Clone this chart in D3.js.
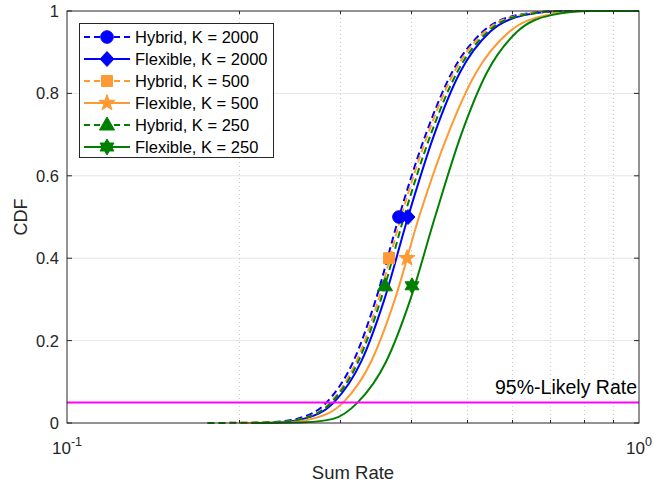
<!DOCTYPE html>
<html>
<head>
<meta charset="utf-8">
<script src="https://cdn.jsdelivr.net/npm/d3@7"></script>
<style>
  html, body { margin: 0; padding: 0; background: #fff; }
  svg { display: block; font-family: "Liberation Sans", Arial, Helvetica, sans-serif; }
</style>
</head>
<body>
<div id="chart"></div>
<script>
// CDF of sum rate, hybrid vs flexible, three K values

// CDF levels shared by every curve (first point = curve start, last = right edge)
var cdfLevels = [0, 0.002, 0.01, 0.05, 0.15, 0.3, 0.5, 0.7, 0.85, 0.95, 0.99, 1, 1];

// sum rate read at each level
var rateHybrid2000   = [0.220, 0.2286, 0.2521, 0.2843, 0.3168, 0.3467, 0.3805, 0.4237, 0.4707, 0.5335, 0.6134, 0.7276, 1.0];
var rateFlexible2000 = [0.220, 0.2343, 0.2589, 0.2929, 0.3271, 0.3588, 0.3946, 0.4385, 0.4861, 0.5496, 0.6302, 0.7424, 1.0];
var rateHybrid500    = [0.176, 0.2331, 0.2565, 0.2886, 0.3207, 0.3504, 0.3836, 0.4272, 0.4745, 0.5378, 0.6184, 0.7276, 1.0];
var rateFlexible500  = [0.200, 0.2421, 0.2681, 0.3041, 0.3404, 0.3743, 0.4125, 0.4632, 0.5188, 0.5937, 0.6902, 0.8046, 1.0];
var rateHybrid250    = [0.176, 0.2333, 0.2572, 0.2901, 0.3232, 0.3538, 0.3883, 0.4324, 0.4803, 0.5443, 0.6259, 0.7424, 1.0];
var rateFlexible250  = [0.210, 0.2607, 0.2918, 0.3223, 0.3616, 0.3984, 0.4399, 0.4888, 0.5419, 0.6127, 0.7026, 0.8210, 1.0];

// one marker per curve
var markerRate = [0.3805, 0.3946, 0.3656, 0.3930, 0.3597, 0.4010];
var markerCdf  = [0.5, 0.5, 0.4, 0.4, 0.333, 0.333];

var seriesNames  = ['Hybrid, K = 2000', 'Flexible, K = 2000', 'Hybrid, K = 500',
                    'Flexible, K = 500', 'Hybrid, K = 250', 'Flexible, K = 250'];
var seriesRates  = [rateHybrid2000, rateFlexible2000, rateHybrid500, rateFlexible500, rateHybrid250, rateFlexible250];
var seriesColors = ['#0000ff', '#0000ff', '#ff9933', '#ff9933', '#008000', '#008000'];
var seriesDashed = [true, false, true, false, true, false];
var seriesMarker = ['circle', 'diamond', 'square', 'star5', 'triangle', 'hexagram'];

var yTicks      = [0, 0.2, 0.4, 0.6, 0.8, 1];
var xMajorTicks = [0.1, 1];
var xMinorTicks = [0.2, 0.3, 0.4, 0.5, 0.6, 0.7, 0.8, 0.9];
var likelyCdf   = 0.05;
var likelyLabel = '95%-Likely Rate';

(function() {

  var W = 654, H = 489;
  var M = { left: 67, right: 15, top: 11, bottom: 66 };
  var AX = '#262626';

  var svg = d3.select('#chart').append('svg').attr('width', W).attr('height', H);

  var x = d3.scaleLog().domain([0.1, 1]).range([M.left, W - M.right]);
  var y = d3.scaleLinear().domain([0, 1]).range([H - M.bottom, M.top]);
  var x0 = x.range()[0], x1 = x.range()[1], y0 = y.range()[0], y1 = y.range()[1];

  // ── grid ───────────────────────────────────────────────────────────────────
  var grid = svg.append('g');
  grid.selectAll('line.gy').data(yTicks.slice(1, -1)).enter().append('line')
    .attr('x1', x0).attr('x2', x1)
    .attr('y1', function(d) { return y(d); }).attr('y2', function(d) { return y(d); })
    .attr('stroke', '#e6e6e6').attr('stroke-width', 1);
  grid.selectAll('line.gx').data(xMinorTicks).enter().append('line')
    .attr('x1', function(d) { return Math.round(x(d)) + 0.5; }).attr('x2', function(d) { return Math.round(x(d)) + 0.5; })
    .attr('y1', y0).attr('y2', y1)
    .attr('stroke', '#c8c8c8').attr('stroke-width', 1).attr('stroke-dasharray', '1,3');

  // ── marker shapes ──────────────────────────────────────────────────────────
  function starPath(n, R, r, rot) {
    var pts = [];
    for (var i = 0; i < 2 * n; i++) {
      var a = rot + Math.PI * i / n;
      var rr = (i % 2 === 0) ? R : r;
      pts.push([rr * Math.sin(a), -rr * Math.cos(a)]);
    }
    return 'M' + pts.map(function(p) { return p[0].toFixed(2) + ',' + p[1].toFixed(2); }).join('L') + 'Z';
  }
  function markerPath(kind) {
    switch (kind) {
      case 'circle':   return d3.symbol(d3.symbolCircle, Math.PI * 6.3 * 6.3)();
      case 'diamond':  return 'M0,-7.5L7,0L0,7.5L-7,0Z';
      case 'square':   return 'M-5.5,-5.5L5.5,-5.5L5.5,5.5L-5.5,5.5Z';
      case 'star5':    return starPath(5, 8.5, 3.4, 0);
      case 'triangle': return 'M0,-8L7.5,5L-7.5,5Z';
      case 'hexagram': return starPath(6, 8, 4.6, 0);
    }
  }

  // ── curves ─────────────────────────────────────────────────────────────────
  var line = d3.line()
    .x(function(d) { return x(d[0]); })
    .y(function(d) { return y(d[1]); })
    .curve(d3.curveMonotoneX);

  var plot = svg.append('g');
  seriesRates.forEach(function(rates, i) {
    var pts = rates.map(function(r, k) { return [r, cdfLevels[k]]; });
    plot.append('path').datum(pts)
      .attr('d', line)
      .attr('fill', 'none')
      .attr('stroke', seriesColors[i])
      .attr('stroke-width', 2)
      .attr('stroke-dasharray', seriesDashed[i] ? '7,4' : null);
  });
  seriesRates.forEach(function(rates, i) {
    plot.append('path')
      .attr('d', markerPath(seriesMarker[i]))
      .attr('transform', 'translate(' + x(markerRate[i]) + ',' + y(markerCdf[i]) + ')')
      .attr('fill', seriesColors[i]).attr('stroke', seriesColors[i]).attr('stroke-width', 1);
  });

  // 95%-likely line
  plot.append('line')
    .attr('x1', x0).attr('x2', x1)
    .attr('y1', y(likelyCdf)).attr('y2', y(likelyCdf))
    .attr('stroke', '#ff00ff').attr('stroke-width', 2);
  plot.append('text')
    .attr('x', x1 - 2).attr('y', y(likelyCdf) - 8)
    .attr('text-anchor', 'end').attr('font-size', '19.5px').attr('fill', '#000')
    .text(likelyLabel);

  // ── axes box + ticks ───────────────────────────────────────────────────────
  var ax = svg.append('g');
  ax.append('rect')
    .attr('x', x0).attr('y', y1).attr('width', x1 - x0).attr('height', y0 - y1)
    .attr('fill', 'none').attr('stroke', AX).attr('stroke-width', 1);

  yTicks.forEach(function(t) {
    var yy = y(t);
    ax.append('line').attr('x1', x0).attr('x2', x0 + 5).attr('y1', yy).attr('y2', yy).attr('stroke', AX);
    ax.append('line').attr('x1', x1).attr('x2', x1 - 5).attr('y1', yy).attr('y2', yy).attr('stroke', AX);
    ax.append('text')
      .attr('x', x0 - 8).attr('y', yy + 6)
      .attr('text-anchor', 'end').attr('font-size', '16.5px').attr('fill', AX)
      .text(d3.format('~g')(t));
  });

  xMinorTicks.forEach(function(t) {
    var xx = Math.round(x(t)) + 0.5;
    ax.append('line').attr('x1', xx).attr('x2', xx).attr('y1', y0).attr('y2', y0 - 3).attr('stroke', AX);
    ax.append('line').attr('x1', xx).attr('x2', xx).attr('y1', y1).attr('y2', y1 + 3).attr('stroke', AX);
  });

  xMajorTicks.forEach(function(t) {
    var txt = ax.append('text')
      .attr('x', x(t)).attr('y', y0 + 31)
      .attr('text-anchor', 'middle').attr('font-size', '17px').attr('fill', AX);
    txt.append('tspan').text('10');
    txt.append('tspan').attr('dy', -8).attr('font-size', '12.5px').text(String(Math.round(Math.log10(t))));
  });

  // axis labels
  svg.append('text')
    .attr('x', (x0 + x1) / 2).attr('y', H - 10)
    .attr('text-anchor', 'middle').attr('font-size', '18.5px').attr('fill', AX)
    .text('Sum Rate');
  svg.append('text')
    .attr('transform', 'translate(27,' + ((y0 + y1) / 2) + ') rotate(-90)')
    .attr('text-anchor', 'middle').attr('font-size', '18px').attr('fill', AX)
    .text('CDF');

  // ── legend ─────────────────────────────────────────────────────────────────
  var lg = svg.append('g');
  lg.append('rect')
    .attr('x', 79.5).attr('y', 23.5).attr('width', 194).attr('height', 134)
    .attr('fill', '#fff').attr('stroke', AX).attr('stroke-width', 1);

  seriesNames.forEach(function(name, i) {
    var ry = 37 + i * 22;
    lg.append('line')
      .attr('x1', 84).attr('x2', 130).attr('y1', ry).attr('y2', ry)
      .attr('stroke', seriesColors[i]).attr('stroke-width', 2)
      .attr('stroke-dasharray', seriesDashed[i] ? '6,4' : null);
    lg.append('path')
      .attr('d', markerPath(seriesMarker[i]))
      .attr('transform', 'translate(107,' + ry + ')')
      .attr('fill', seriesColors[i]).attr('stroke', seriesColors[i]).attr('stroke-width', 1);
    lg.append('text')
      .attr('x', 135).attr('y', ry + 6)
      .attr('font-size', '16.5px').attr('fill', '#000')
      .text(name);
  });

})();
</script>
</body>
</html>
